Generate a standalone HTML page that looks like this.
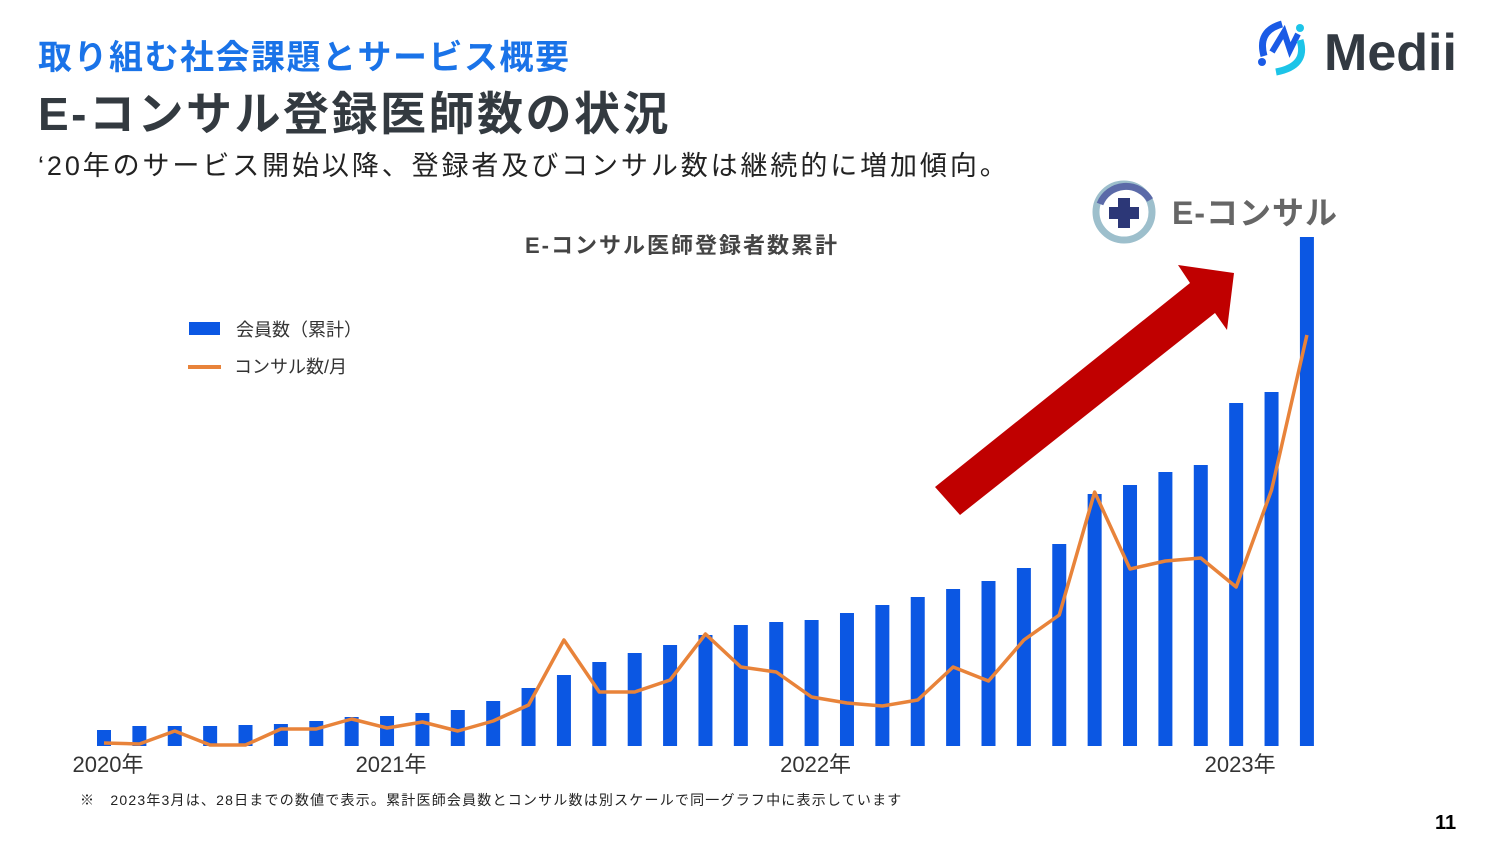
<!DOCTYPE html>
<html><head><meta charset="utf-8">
<style>
body{margin:0;width:1500px;height:844px;background:#fff;position:relative;overflow:hidden;font-family:"Liberation Sans","Noto Sans CJK JP",sans-serif}
.a{position:absolute;white-space:nowrap}
</style></head><body>
<div class="a" style="left:38px;top:30px;font-size:34px;font-weight:bold;color:#1a73e8;letter-spacing:1.5px">取り組む社会課題とサービス概要</div>
<div class="a" style="left:38px;top:78px;font-size:46px;font-weight:bold;color:#333a40;letter-spacing:2.5px">E-コンサル登録医師数の状況</div>
<div class="a" style="left:38px;top:144px;font-size:27px;color:#222;letter-spacing:2.9px">‘20年のサービス開始以降、登録者及びコンサル数は継続的に増加傾向。</div>
<div class="a" style="left:525px;top:228px;font-size:22px;font-weight:bold;color:#444;letter-spacing:2px">E-コンサル医師登録者数累計</div>
<div class="a" style="left:80px;top:790px;font-size:14px;color:#222;letter-spacing:1.2px">※　2023年3月は、28日までの数値で表示。累計医師会員数とコンサル数は別スケールで同一グラフ中に表示しています</div>
<div class="a" style="left:1435px;top:812px;font-size:20px;font-weight:bold;color:#000">11</div>
<div class="a" style="left:1252px;top:16px">
<svg width="230" height="64"><path d="M12 40 Q5 15 30 8" stroke="#1a5be6" stroke-width="7" fill="none"/><circle cx="10" cy="46" r="4" fill="#1a5be6"/><path d="M20 36 L32 16 L38 34 L46 18" stroke="#1a5be6" stroke-width="6" fill="none"/><circle cx="48" cy="12" r="4" fill="#1cc4e8"/><path d="M48 24 Q56 50 24 56" stroke="#1cc4e8" stroke-width="7" fill="none"/>
<text x="72" y="54" font-size="52" font-weight="bold" fill="#333a42" font-family="Liberation Sans,sans-serif">Medii</text></svg></div>
<div class="a" style="left:1092px;top:180px">
<svg width="250" height="66"><circle cx="32" cy="32" r="28" fill="none" stroke="#9dbfcc" stroke-width="7"/><path d="M8 24 A28 28 0 0 1 58 20" stroke="#5b6aa8" stroke-width="7" fill="none"/><rect x="26" y="18" width="12" height="30" fill="#2c3777"/><rect x="17" y="27" width="30" height="12" fill="#2c3777"/>
<text x="80" y="44" font-size="32" font-weight="bold" fill="#666" letter-spacing="1" font-family="Liberation Sans,Noto Sans CJK JP,sans-serif">E-コンサル</text></svg></div>
<svg class="a" style="left:0;top:0" width="1500" height="844" id="chart">
<g>
<rect x="189" y="322" width="31" height="13" fill="#0b57e3"/>
<text x="236" y="336" font-size="18" fill="#333">会員数（累計）</text>
<line x1="188" y1="367" x2="221" y2="367" stroke="#e8833a" stroke-width="4"/>
<text x="234" y="373" font-size="18" fill="#333">コンサル数/月</text>
</g>
<g id="bars"></g><g id="line"></g><g id="xl"></g>
<polygon fill="#c00000" points="935,487 1190,283 1178,265 1234,273 1227,330 1215,313 960,515"/>
</svg>
<script>
const months=[];for(let i=0;i<35;i++)months.push(i);
const members=[16,20,20,20,21,22,25,29,30,33,36,45,58,71,84,93,101,111,121,124,126,133,141,149,157,165,178,202,252,261,274,281,343,354,509];
const consults=[3,2,15,1,1,17,17,27,18,24,15,25,41,106,54,54,66,112,79,74,49,43,40,46,79,65,106,131,254,177,185,188,159,256,411];
const xTicks=[{i:0,l:"2020年"},{i:8,l:"2021年"},{i:20,l:"2022年"},{i:32,l:"2023年"}];
const base=746;
const x=i=>104+i*35.38;
const yb=v=>base-v;
const yl=v=>base-v;
const ns="http://www.w3.org/2000/svg";
const bg=document.getElementById('bars');
months.forEach(i=>{const r=document.createElementNS(ns,'rect');
r.setAttribute('x',x(i)-7);r.setAttribute('y',yb(members[i]));r.setAttribute('width',14);r.setAttribute('height',members[i]);r.setAttribute('fill','#0b57e3');


bg.appendChild(r);});
const p=document.createElementNS(ns,'polyline');
p.setAttribute('points',months.map(i=>x(i)+','+yl(consults[i])).join(' '));
p.setAttribute('fill','none');p.setAttribute('stroke','#e8833a');p.setAttribute('stroke-width','3.5');p.setAttribute('stroke-linejoin','round');


document.getElementById('line').appendChild(p);
const xl=document.getElementById('xl');
xTicks.forEach(t=>{const e=document.createElementNS(ns,'text');
e.setAttribute('x',x(t.i)+4);e.setAttribute('y',772);e.setAttribute('font-size','22');e.setAttribute('fill','#333');e.setAttribute('text-anchor','middle');e.textContent=t.l;


xl.appendChild(e);});
</script>
</body></html>
